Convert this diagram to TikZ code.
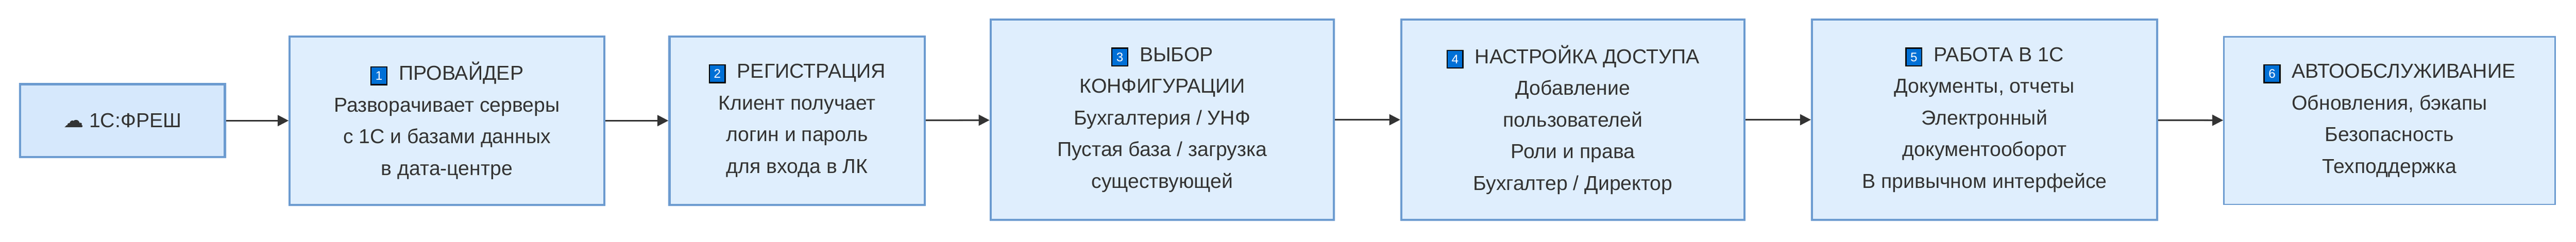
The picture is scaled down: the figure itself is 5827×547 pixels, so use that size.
\documentclass[tikz,border=0pt]{standalone}
\usepackage{fontspec}
\setmainfont{Liberation Sans}
\newfontfamily\symfont{DejaVu Sans}
\usetikzlibrary{arrows.meta}
\definecolor{boxfill}{HTML}{DFEEFD}
\definecolor{startfill}{HTML}{D6E8FC}
\definecolor{boxline}{HTML}{6C9BD0}
\definecolor{badge}{HTML}{0070D6}
\definecolor{ink}{HTML}{333333}
\newcommand\stepno[1]{{\setlength\fboxsep{2.5pt}\setlength\fboxrule{0.8pt}\fcolorbox{black}{badge}{\textcolor{white}{\footnotesize #1}}}\ }

\begin{document}
\begin{tikzpicture}[x=0.01cm, y=-0.01cm,
  stage/.style={draw=boxline, line width=1.4pt, fill=boxfill, align=center, text=ink,
    font=\fontsize{13}{20.4}\selectfont, inner sep=0pt},
  flow/.style={-{Triangle[length=7pt,width=7pt]}, draw=ink, line width=1pt}]
\useasboundingbox (0,0) rectangle (5827,547);

\node[stage, fill=startfill, minimum width=4.63cm, minimum height=1.65cm] (fresh) at (277,273) {{\symfont ☁}\ 1С:ФРЕШ};
\node[stage, minimum width=7.11cm, minimum height=3.81cm] (provider) at (1011,273)
  {\stepno{1} ПРОВАЙДЕР\\ Разворачивает серверы\\ с 1С и базами данных\\ в дата-центре};
\node[stage, minimum width=5.77cm, minimum height=3.81cm] (signup) at (1803,273)
  {\stepno{2} РЕГИСТРАЦИЯ\\ Клиент получает\\ логин и пароль\\ для входа в ЛК};
\node[stage, minimum width=7.76cm, minimum height=4.53cm] (config) at (2629,271)
  {\stepno{3} ВЫБОР\\ КОНФИГУРАЦИИ\\ Бухгалтерия / УНФ\\ Пустая база / загрузка\\ существующей};
\node[stage, minimum width=7.76cm, minimum height=4.53cm] (access) at (3558,271)
  {\stepno{4} НАСТРОЙКА ДОСТУПА\\ Добавление\\ пользователей\\ Роли и права\\ Бухгалтер / Директор};
\node[stage, minimum width=7.80cm, minimum height=4.53cm] (work) at (4489,271)
  {\stepno{5} РАБОТА В 1С\\ Документы, отчеты\\ Электронный\\ документооборот\\ В привычном интерфейсе};
\node[stage, line width=0.8pt, minimum width=7.49cm, minimum height=3.79cm] (service) at (5405,273)
  {\stepno{6} АВТООБСЛУЖИВАНИЕ\\ Обновления, бэкапы\\ Безопасность\\ Техподдержка};

\draw[flow] (fresh) -- (provider);
\draw[flow] (provider) -- (signup);
\draw[flow] (signup) -- (config);
\draw[flow] (config) -- (access);
\draw[flow] (access) -- (work);
\draw[flow] (work) -- (service);
\end{tikzpicture}
\end{document}
